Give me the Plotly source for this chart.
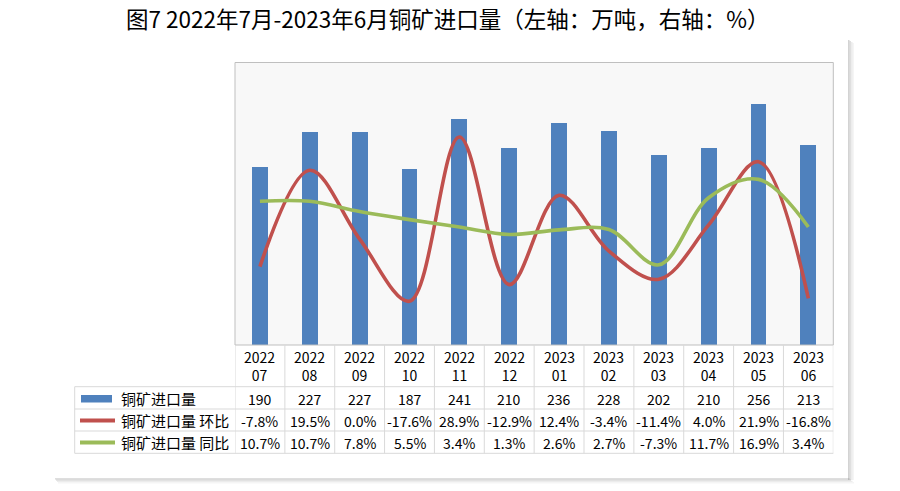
import plotly.graph_objects as go

# ---------------- data ----------------
months = ["2022<br>07", "2022<br>08", "2022<br>09", "2022<br>10", "2022<br>11", "2022<br>12",
          "2023<br>01", "2023<br>02", "2023<br>03", "2023<br>04", "2023<br>05", "2023<br>06"]
imports = [190, 227, 227, 187, 241, 210, 236, 228, 202, 210, 256, 213]
mom = [-7.8, 19.5, 0.0, -17.6, 28.9, -12.9, 12.4, -3.4, -11.4, 4.0, 21.9, -16.8]
yoy = [10.7, 10.7, 7.8, 5.5, 3.4, 1.3, 2.6, 2.7, -7.3, 11.7, 16.9, 3.4]
series_names = ["铜矿进口量", "铜矿进口量 环比", "铜矿进口量 同比"]
title_text = "图7 2022年7月-2023年6月铜矿进口量（左轴：万吨，右轴：%）"

BLUE = "#4F81BD"
RED = "#C0504D"
GREEN = "#9BBB59"
GRID = "#D9D9D9"
FONT = "Noto Sans CJK SC"

W, H = 900, 491
OFF = 0  # page body margin removed via post_script


def px(x):
    return (x - OFF) / W


def py(y):
    return 1 - (y - OFF) / H


x_idx = list(range(len(months)))

fig = go.Figure()
fig.add_trace(go.Bar(x=x_idx, y=imports, width=0.32, marker=dict(color=BLUE, line=dict(width=0)),
                     name=series_names[0], yaxis="y", hoverinfo="skip"))
fig.add_trace(go.Scatter(x=x_idx, y=mom, mode="lines", line=dict(color=RED, width=3.6, shape="spline", smoothing=1.0),
                         name=series_names[1], yaxis="y2", hoverinfo="skip"))
fig.add_trace(go.Scatter(x=x_idx, y=yoy, mode="lines", line=dict(color=GREEN, width=3.6, shape="spline", smoothing=1.0),
                         name=series_names[2], yaxis="y2", hoverinfo="skip"))

PL, PR, PT, PB = 235, 833.3, 62.5, 345

fig.update_layout(
    width=W, height=H,
    margin=dict(l=0, r=0, t=0, b=0),
    paper_bgcolor="white",
    plot_bgcolor="#F8F8F8",
    showlegend=False,
    bargap=0,
    font=dict(family=FONT, color="black", size=14),
    xaxis=dict(domain=[px(PL), px(PR)], range=[-0.5, 11.5], showgrid=False, zeroline=False,
               showticklabels=False, ticks="", showline=False, fixedrange=True),
    yaxis=dict(domain=[py(PB), py(PT)], range=[0, 300], showgrid=False, zeroline=False,
               showticklabels=False, ticks="", showline=False),
    yaxis2=dict(domain=[py(PB), py(PT)], range=[-30, 50], overlaying="y", side="right",
                showgrid=False, zeroline=False, showticklabels=False, ticks="", showline=False),
)

shapes = []
# chart-area shadow (right and bottom)
for i, op in enumerate([0.35, 0.25, 0.15, 0.08]):
    shapes.append(dict(type="rect", xref="paper", yref="paper", x0=px(848 + i * 1.5), x1=px(849.5 + i * 1.5),
                       y0=py(480), y1=py(40 + i), fillcolor="gray", opacity=op, line=dict(width=0), layer="below"))
    shapes.append(dict(type="rect", xref="paper", yref="paper", x0=px(55 + i), x1=px(849.5 + i * 1.5),
                       y0=py(479.5 + i * 1.3), y1=py(478.2 + i * 1.3), fillcolor="gray", opacity=op,
                       line=dict(width=0), layer="below"))

# plot-area border
shapes.append(dict(type="rect", xref="paper", yref="paper", x0=px(PL), x1=px(PR), y0=py(PB), y1=py(PT),
                   line=dict(color="#BFBFBF", width=1), fillcolor="rgba(0,0,0,0)", layer="above"))

# table geometry
TL = 74.7
row_lines = [386.7, 409, 431, 453.3]
TB = row_lines[-1]
for yl in row_lines:
    shapes.append(dict(type="line", xref="paper", yref="paper", x0=px(TL), x1=px(PR), y0=py(yl), y1=py(yl),
                       line=dict(color=GRID, width=1)))
shapes.append(dict(type="line", xref="paper", yref="paper", x0=px(TL), x1=px(TL), y0=py(row_lines[0]), y1=py(TB),
                   line=dict(color=GRID, width=1)))
for i in range(len(months) + 1):
    shapes.append(dict(type="line", xref="x", yref="paper", x0=i - 0.5, x1=i - 0.5, y0=py(PB), y1=py(TB),
                       line=dict(color=GRID, width=1)))

# legend keys inside table
row_centers = [398.5, 420.5, 442.5]
shapes.append(dict(type="rect", xref="paper", yref="paper", x0=px(81), x1=px(112), y0=py(402.5), y1=py(395),
                   fillcolor=BLUE, line=dict(width=0)))
shapes.append(dict(type="line", xref="paper", yref="paper", x0=px(80), x1=px(115), y0=py(row_centers[1]),
                   y1=py(row_centers[1]), line=dict(color=RED, width=4)))
shapes.append(dict(type="line", xref="paper", yref="paper", x0=px(80), x1=px(115), y0=py(row_centers[2]),
                   y1=py(row_centers[2]), line=dict(color=GREEN, width=4)))

annotations = []
annotations.append(dict(text=title_text, xref="paper", yref="paper", x=px(447), y=py(18), showarrow=False,
                        xanchor="center", yanchor="middle", font=dict(size=22.5, family=FONT, color="black")))

for i, m in enumerate(months):
    annotations.append(dict(text=m, xref="x", yref="paper", x=i, y=py(366), showarrow=False,
                            xanchor="center", yanchor="middle", font=dict(size=14)))
    annotations.append(dict(text=str(imports[i]), xref="x", yref="paper", x=i, y=py(row_centers[0]),
                            showarrow=False, xanchor="center", yanchor="middle", font=dict(size=14)))
    annotations.append(dict(text=f"{mom[i]:.1f}%", xref="x", yref="paper", x=i, y=py(row_centers[1]),
                            showarrow=False, xanchor="center", yanchor="middle", font=dict(size=14)))
    annotations.append(dict(text=f"{yoy[i]:.1f}%", xref="x", yref="paper", x=i, y=py(row_centers[2]),
                            showarrow=False, xanchor="center", yanchor="middle", font=dict(size=14)))

for name, yc in zip(series_names, row_centers):
    annotations.append(dict(text=name, xref="paper", yref="paper", x=px(119), y=py(yc), showarrow=False,
                            xanchor="left", yanchor="middle", font=dict(size=15)))

fig.update_layout(shapes=shapes, annotations=annotations)
fig.write_html("out.html", config={"displayModeBar": False},
               post_script="document.body.style.margin='0px';")
